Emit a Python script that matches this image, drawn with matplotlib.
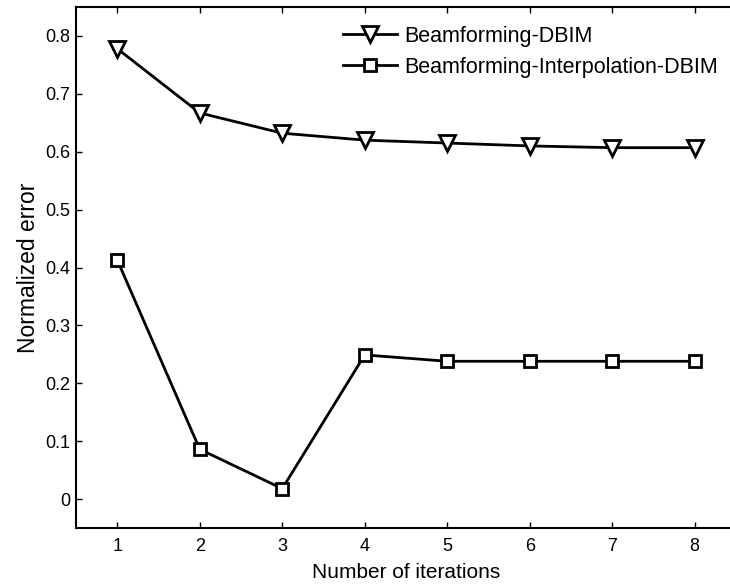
import matplotlib
matplotlib.use("Agg")
import matplotlib.pyplot as plt

plt.rcParams['font.family'] = ['Liberation Sans', 'DejaVu Sans']

iterations = [1, 2, 3, 4, 5, 6, 7, 8]
bf_dbim = [0.778, 0.667, 0.632, 0.620, 0.615, 0.610, 0.607, 0.607]
bf_interp_dbim = [0.413, 0.086, 0.018, 0.249, 0.238, 0.238, 0.238, 0.238]
labels = ['Beamforming-DBIM', 'Beamforming-Interpolation-DBIM']
xticks = [1, 2, 3, 4, 5, 6, 7, 8]
yticks = [0, 0.1, 0.2, 0.3, 0.4, 0.5, 0.6, 0.7, 0.8]
ytick_labels = ['0', '0.1', '0.2', '0.3', '0.4', '0.5', '0.6', '0.7', '0.8']

fig = plt.figure(figsize=(7.30, 5.86), dpi=100)
ax = fig.add_axes([76/730, 1 - 528/586, 660/730, 521/586])

ax.plot(iterations, bf_dbim, color='black', lw=2, marker='v', ms=11,
        mfc='white', mec='black', mew=2, label=labels[0])
ax.plot(iterations, bf_interp_dbim, color='black', lw=2, marker='s', ms=8,
        mfc='white', mec='black', mew=2, label=labels[1])

ax.set_xlim(0.5, 8.5)
ax.set_ylim(-0.05, 0.85)
ax.set_xticks(xticks)
ax.set_yticks(yticks)
ax.set_yticklabels(ytick_labels)
ax.tick_params(direction='in', length=4, width=1, top=True, right=True,
               labelsize=13)
ax.tick_params(axis='x', pad=7)
ax.tick_params(axis='y', pad=4)
for s in ax.spines.values():
    s.set_linewidth(1.5)

ax.set_xlabel('Number of iterations', fontsize=15, labelpad=6)
ax.set_ylabel('Normalized error', fontsize=16.5, labelpad=4)

leg = fig.legend(loc='upper left', bbox_to_anchor=(343/730, 1 - 26/586),
                 frameon=False, fontsize=15.5, handlelength=2.5,
                 handletextpad=0.35, labelspacing=0.45, borderpad=0,
                 borderaxespad=0)

fig.savefig('out.png', dpi=100)
